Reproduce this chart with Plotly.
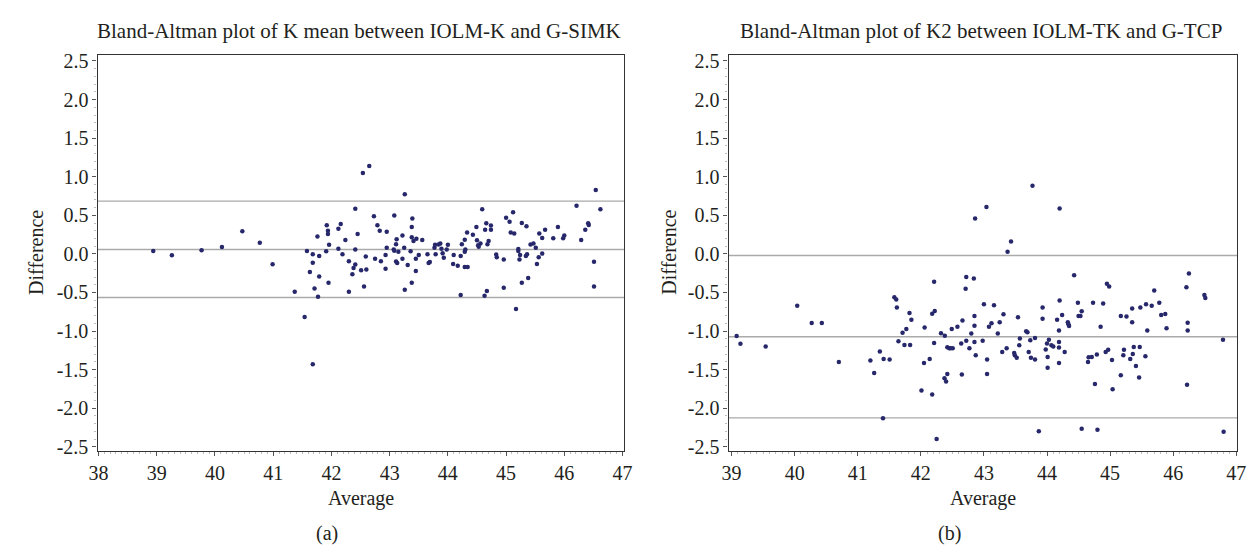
import plotly.graph_objects as go
from plotly.subplots import make_subplots

# ---------------- data ----------------
title_a = "Bland-Altman plot of K mean between IOLM-K and G-SIMK"
title_b = "Bland-Altman plot of K2 between IOLM-TK and G-TCP"
x_label = "Average"
y_label = "Difference"
panel_labels = ["(a)", "(b)"]

avg_a = [42.65, 42.54, 43.26, 42.41, 42.73, 43.08, 43.39, 42.79, 41.92, 42.16, 42.12, 41.94, 41.94, 42.83,
         42.95, 43.38, 42.45, 41.76, 43.22, 43.38, 43.46, 43.12, 43.41, 43.56, 42.24, 41.96, 43.11, 42.95,
         43.25, 43.07, 43.08, 43.15, 43.36, 42.12, 42.41, 41.91, 41.58, 41.68, 41.79, 42.19, 42.59, 42.75,
         42.93, 43.22, 43.50, 43.45, 43.65, 43.77, 43.79, 43.84, 43.87, 43.89, 43.91, 43.93, 43.78, 42.30,
         41.68, 42.85, 43.11, 43.13, 42.41, 43.31, 43.69, 43.67, 42.38, 42.93, 42.51, 42.60, 41.63, 43.45,
         42.36, 41.79, 41.95, 43.38, 42.30, 42.56, 41.71, 41.37, 41.77, 43.26, 41.54,
         46.54, 46.21, 46.62, 44.59, 45.12, 45.00, 45.06, 44.66, 44.74, 45.27, 45.35, 46.41, 46.42, 45.89,
         44.49, 44.64, 44.74, 46.36, 45.67, 44.33, 45.08, 45.14, 45.57, 44.43, 46.00, 45.98, 45.81, 45.62,
         46.29, 44.29, 44.50, 44.70, 44.56, 44.68, 44.52, 44.53, 45.42, 45.47, 45.51, 44.24, 44.00, 43.98,
         44.30, 44.29, 45.21, 45.21, 45.62, 44.10, 44.22, 44.83, 44.84, 44.96, 45.24, 45.23, 45.36, 45.34,
         45.56, 44.09, 44.17, 44.29, 44.34, 45.53, 46.51, 45.38, 45.27, 44.96, 44.67, 44.63, 44.22, 46.51,
         45.17,
         38.94, 39.26, 39.77, 40.12, 40.47, 40.77, 40.99, 41.68]
diff_a = [1.14, 1.047, 0.772, 0.586, 0.489, 0.498, 0.46, 0.371, 0.371, 0.388, 0.325, 0.299, 0.257, 0.299,
          0.287, 0.35, 0.257, 0.227, 0.24, 0.215, 0.198, 0.19, 0.168, 0.181, 0.181, 0.118, 0.126, 0.08,
          0.08, 0.058, 0.041, 0.029, 0.033, 0.067, 0.058, 0.033, 0.037, -0.005, -0.026, -0.005, -0.035, -0.064,
          -0.013, -0.064, -0.013, -0.064, -0.005, 0.08, -0.005, 0.122, 0.134, 0.067, 0.008, -0.051, 0.118, -0.094,
          -0.115, -0.094, -0.098, -0.119, -0.136, -0.144, -0.106, -0.119, -0.182, -0.191, -0.212, -0.203, -0.233, -0.22,
          -0.263, -0.292, -0.373, -0.373, -0.491, -0.423, -0.449, -0.491, -0.554, -0.465, -0.816,
          0.827, 0.625, 0.578, 0.578, 0.54, 0.468, 0.418, 0.397, 0.367, 0.401, 0.358, 0.397, 0.375, 0.35,
          0.35, 0.312, 0.312, 0.312, 0.312, 0.278, 0.278, 0.265, 0.265, 0.248, 0.24, 0.202, 0.202, 0.206,
          0.181, 0.185, 0.177, 0.168, 0.134, 0.126, 0.113, 0.092, 0.122, 0.134, 0.08, 0.126, 0.118, 0.058,
          0.058, 0.029, 0.063, 0.037, 0.004, -0.013, -0.026, -0.009, -0.043, -0.072, -0.013, -0.072, -0.005, -0.026,
          -0.043, -0.132, -0.153, -0.170, -0.170, -0.132, -0.102, -0.313, -0.373, -0.44, -0.482, -0.541, -0.533, -0.423,
          -0.715,
          0.038, -0.016, 0.047, 0.091, 0.295, 0.144, -0.135, -1.43]

avg_b = [39.08, 39.14, 39.54, 40.04, 40.27, 40.43, 40.70,
         43.77, 43.04, 42.86, 43.43, 43.375, 42.21, 42.72, 42.84, 42.71, 41.58, 41.61, 41.62, 41.82, 41.85,
         42.18, 42.22, 43.00, 43.16, 42.85, 42.66, 43.31, 43.54, 42.06, 41.77, 41.71, 41.645, 41.74, 41.83,
         42.32, 42.38, 42.49, 42.58, 42.85, 43.08, 43.12, 43.25, 43.22, 42.80, 42.21, 42.64, 42.72, 42.77,
         42.85, 42.98, 42.87, 42.42, 42.45, 42.47, 42.505, 43.05, 43.29, 43.36, 43.48, 43.49, 43.52, 43.57,
         43.56, 43.67, 43.69, 43.735, 43.745, 43.71, 43.81, 43.81, 41.20, 41.26, 41.35, 41.41, 41.505, 42.05,
         42.14, 42.42, 42.375, 42.40, 42.65, 43.05, 42.01, 42.18, 41.40, 42.25,
         44.20, 44.43, 46.25, 44.95, 44.985, 46.21, 45.70, 46.495, 46.51, 44.20, 44.49, 44.73, 44.89, 45.57,
         45.66, 45.78, 43.93, 45.35, 45.48, 44.55, 44.50, 44.53, 44.24, 45.17, 45.26, 45.81, 45.875, 43.93,
         44.16, 44.33, 44.34, 44.35, 45.35, 46.23, 44.85, 44.19, 45.59, 45.895, 46.23, 46.79, 44.03, 44.00,
         44.07, 44.10, 44.19, 44.19, 43.98, 44.28, 44.01, 44.01, 44.19, 44.66, 44.71, 44.65, 44.79, 44.93,
         44.97, 45.03, 44.76, 45.04, 45.17, 45.21, 45.22, 45.32, 45.36, 45.375, 45.41, 45.46, 45.47, 45.56,
         46.22, 43.87, 44.55, 44.80, 46.80]
diff_b = [-1.063, -1.165, -1.2, -0.672, -0.894, -0.894, -1.40,
          0.883, 0.608, 0.46, 0.16, 0.029, -0.36, -0.30, -0.317, -0.452, -0.562, -0.592, -0.693, -0.765, -0.854,
          -0.774, -0.74, -0.651, -0.664, -0.803, -0.862, -0.782, -0.82, -0.955, -0.972, -1.023, -1.133, -1.179, -1.179,
          -1.027, -1.061, -0.972, -0.943, -0.93, -0.943, -0.9, -0.884, -1.031, -1.031, -1.154, -1.162, -1.124, -1.221,
          -1.141, -1.124, -1.314, -1.209, -1.221, -1.221, -1.221, -1.369, -1.272, -1.221, -1.285, -1.314, -1.344, -1.095,
          -1.183, -1.002, -1.014, -1.12, -1.344, -1.272, -1.369, -1.09, -1.382, -1.542, -1.264, -1.361, -1.369, -1.412,
          -1.361, -1.555, -1.61, -1.652, -1.563, -1.555, -1.77, -1.821, -2.13, -2.40,
          0.587, -0.275, -0.254, -0.385, -0.423, -0.431, -0.474, -0.533, -0.571, -0.605, -0.634, -0.634, -0.643, -0.651,
          -0.672, -0.634, -0.693, -0.706, -0.693, -0.744, -0.803, -0.803, -0.79, -0.803, -0.812, -0.79, -0.778, -0.841,
          -0.854, -0.884, -0.913, -0.934, -0.884, -0.892, -0.943, -0.993, -0.993, -0.964, -0.993, -1.111, -1.111, -1.162,
          -1.183, -1.2, -1.141, -1.213, -1.238, -1.272, -1.335, -1.475, -1.412, -1.34, -1.335, -1.399, -1.302, -1.272,
          -1.243, -1.374, -1.686, -1.754, -1.572, -1.314, -1.243, -1.361, -1.298, -1.205, -1.454, -1.602, -1.205, -1.327,
          -1.695, -2.299, -2.265, -2.278, -2.303]

# mean difference and limits of agreement (upper, mean, lower)
limits_a = [0.684, 0.058, -0.565]
limits_b = [-0.02, -1.073, -2.125]

y_tick_vals = [2.5, 2.0, 1.5, 1.0, 0.5, 0.0, -0.5, -1.0, -1.5, -2.0, -2.5]
y_tick_text = ["2.5", "2.0", "1.5", "1.0", "0.5", "0.0", "-0.5", "-1.0", "-1.5", "-2.0", "-2.5"]
x_ticks_a = [38, 39, 40, 41, 42, 43, 44, 45, 46, 47]
x_ticks_b = [39, 40, 41, 42, 43, 44, 45, 46, 47]

# ---------------- figure ----------------
W, H = 1255, 550
FONT = "Liberation Serif"
TXT = "#231f20"
PT = "#27286b"

fig = make_subplots(rows=1, cols=2)

fig.add_trace(go.Scatter(x=avg_a, y=diff_a, mode="markers",
                         marker=dict(size=4.5, color=PT, line=dict(width=0)),
                         showlegend=False, hoverinfo="x+y"), row=1, col=1)
fig.add_trace(go.Scatter(x=avg_b, y=diff_b, mode="markers",
                         marker=dict(size=4.5, color=PT, line=dict(width=0)),
                         showlegend=False, hoverinfo="x+y"), row=1, col=2)

def px_x(p):
    return p / W

def px_y(p):
    return 1 - p / H

y_dom = [px_y(447.3), px_y(43.3)]

axis_common = dict(
    showgrid=False, zeroline=False, showline=True, linecolor="#333333", linewidth=1.3,
    mirror=True, ticks="outside", ticklen=4, tickwidth=1, tickcolor="#555555",
    tickfont=dict(family=FONT, size=20, color=TXT),
    minor=dict(ticks="outside", ticklen=2.5, tickcolor="#bbbbbb", dtick=0.1, showgrid=False),
)

fig.update_layout(
    xaxis=dict(domain=[px_x(81.7), px_x(616)], range=[37.983, 47.028],
               tickvals=x_ticks_a, ticktext=[str(v) for v in x_ticks_a], **axis_common),
    xaxis2=dict(domain=[px_x(722), px_x(1238)], range=[38.953, 47.016],
                tickvals=x_ticks_b, ticktext=[str(v) for v in x_ticks_b], **axis_common),
    yaxis=dict(domain=y_dom, range=[-2.548, 2.573],
               tickvals=y_tick_vals, ticktext=y_tick_text, **axis_common),
    yaxis2=dict(domain=y_dom, range=[-2.548, 2.573],
                tickvals=y_tick_vals, ticktext=y_tick_text, **axis_common),
)

for ref, lims in (("", limits_a), ("2", limits_b)):
    for v in lims:
        fig.add_shape(type="line", xref=f"x{ref} domain", yref=f"y{ref}",
                      x0=0, x1=1, y0=v, y1=v,
                      line=dict(color="#aaaaaa", width=1.4), layer="below")

ann = []
# titles
ann.append(dict(text=title_a, x=px_x(347), y=px_y(18), xref="paper", yref="paper",
                showarrow=False, font=dict(family=FONT, size=21, color=TXT), xanchor="center", yanchor="middle"))
ann.append(dict(text=title_b, x=px_x(978), y=px_y(18), xref="paper", yref="paper",
                showarrow=False, font=dict(family=FONT, size=21, color=TXT), xanchor="center", yanchor="middle"))
# axis titles
for cx in (349, 980):
    ann.append(dict(text=x_label, x=px_x(cx), y=px_y(496), xref="paper", yref="paper",
                    showarrow=False, font=dict(family=FONT, size=20, color=TXT), xanchor="center", yanchor="middle"))
for cx in (18.5, 661.5):
    ann.append(dict(text=y_label, x=px_x(cx), y=px_y(245), xref="paper", yref="paper", textangle=-90,
                    showarrow=False, font=dict(family=FONT, size=20, color=TXT), xanchor="center", yanchor="middle"))
# panel labels
for lab, cx in zip(panel_labels, (315, 946)):
    ann.append(dict(text=lab, x=px_x(cx), y=px_y(532), xref="paper", yref="paper",
                    showarrow=False, font=dict(family=FONT, size=20, color=TXT), xanchor="center", yanchor="middle"))

fig.update_layout(
    width=W, height=H, autosize=False,
    margin=dict(l=0, r=0, t=0, b=0),
    paper_bgcolor="white", plot_bgcolor="white",
    annotations=ann, showlegend=False,
)

fig.write_html("out.html")
